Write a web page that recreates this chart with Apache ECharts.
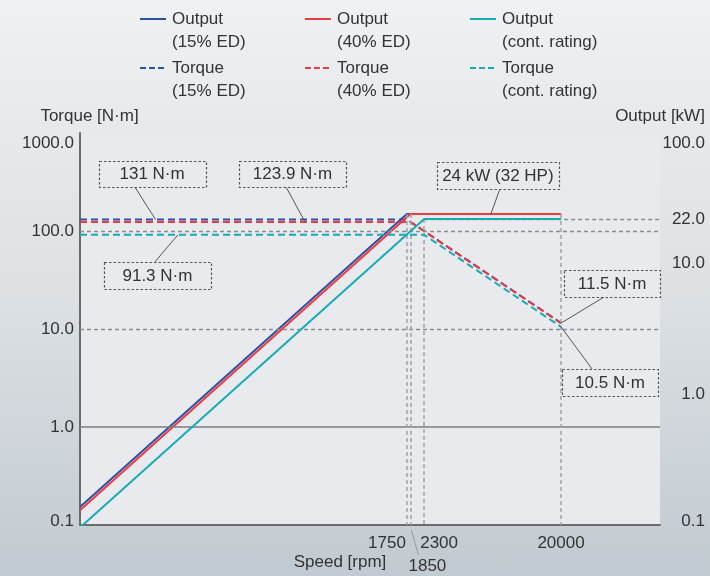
<!DOCTYPE html>
<html>
<head>
<meta charset="utf-8">
<script src="https://cdn.jsdelivr.net/npm/echarts@6/dist/echarts.min.js"></script>
<style>
  html, body { margin: 0; padding: 0; }
  #chart {
    width: 710px; height: 576px;
    background: linear-gradient(to bottom, #eff1f2 0%, #dde1e4 50%, #c2cad1 100%);
  }
</style>
</head>
<body>
<div id="chart"></div>
<script>
// Speed breakpoints [rpm]
const speeds15 = [10, 1750, 20000];
const speeds40 = [10, 1850, 20000];
const speedsCont = [10, 2300, 20000];

// Output [kW]
const output15 = [0.1372, 24, 24];
const output40 = [0.1297, 24, 24];
const outputCont = [0.0956, 22, 22];

// Torque [N·m]
const torque15 = [131, 131, 11.5];
const torque40 = [123.9, 123.9, 11.5];
const torqueCont = [91.3, 91.3, 10.5];

// Speed tick labels along the bottom
const speedTicks = [1750, 2300, 20000];
const speedTickLow = 1850;
// Extra output tick on the right
const outputMarkTick = 22;

// Legend entries
const legendNames = [
  ['Output\n(15% ED)', 'Output\n(40% ED)', 'Output\n(cont. rating)'],
  ['Torque\n(15% ED)', 'Torque\n(40% ED)', 'Torque\n(cont. rating)']
];

// Call-out texts
const noteTexts = ['131 N·m', '123.9 N·m', '24 kW (32 HP)', '91.3 N·m', '11.5 N·m', '10.5 N·m'];

const FONT = '"Liberation Sans", Arial, Helvetica, sans-serif';
const TEXT = '#333333';
const AXIS = '#6b6b6b';
const COLORS = ['#2f4ea6', '#ec3b43', '#17abb6'];
const X_MIN = 10, X_MAX = 95500;

const pairs = (xs, ys) => xs.map((x, i) => [x, ys[i]]);
const solid = c => ({ color: c, width: 2 });
const dashed = c => ({ color: c, width: 2, type: [7, 4] });

const chart = echarts.init(document.getElementById('chart'), null, { renderer: 'canvas' });

const yLabelFmt = v => {
  const s = Number(v).toFixed(1);
  if (v >= 99.9 && v > 150) return '{hi|' + s + '}';
  if (v < 0.11) return '{lo|' + s + '}';
  return s;
};
const yLabelFmtRight = v => {
  const s = Number(v).toFixed(1);
  if (v >= 99.9) return '{hi|' + s + '}';
  if (v < 0.11) return '{lo|' + s + '}';
  return s;
};
const labelRich = {
  hi: { padding: [20, 0, 0, 0], fontSize: 17, fontFamily: FONT, color: TEXT },
  lo: { padding: [0, 0, 8, 0], fontSize: 17, fontFamily: FONT, color: TEXT }
};

const refDash = { color: '#8c8c8c', width: 1.3, type: [4, 3] };
const vDash = { color: '#a3a3a3', width: 1.5, type: [4, 3] };

const option = {
  animation: false,
  textStyle: { fontFamily: FONT },
  grid: { left: 80, right: 50, top: 133, bottom: 49, show: true, backgroundColor: '#e9eaed', borderWidth: 0 },
  xAxis: {
    type: 'log', logBase: 10, min: X_MIN, max: X_MAX,
    axisLine: { show: true, lineStyle: { color: AXIS, width: 2 } },
    axisTick: { show: false },
    axisLabel: { show: false },
    splitLine: { show: false },
    name: 'Speed [rpm]', nameLocation: 'middle', nameGap: 29,
    nameTextStyle: { fontSize: 17, color: TEXT, fontFamily: FONT, padding: [0, 60, 0, 0] }
  },
  yAxis: [
    {
      type: 'log', logBase: 10, min: 0.1, max: 1000,
      axisLine: { show: true, lineStyle: { color: AXIS, width: 2 } },
      axisTick: { show: false },
      splitLine: { show: false },
      axisLabel: { fontSize: 17, color: TEXT, fontFamily: FONT, margin: 6, formatter: yLabelFmt, rich: labelRich },
      name: 'Torque [N·m]', nameLocation: 'end', nameGap: 8,
      nameTextStyle: { fontSize: 17, color: TEXT, fontFamily: FONT, align: 'center', padding: [0, 0, 0, 19] }
    },
    {
      type: 'log', logBase: 10, min: 0.1, max: 100, position: 'right',
      axisLine: { show: false },
      axisTick: { show: false },
      splitLine: { show: false },
      axisLabel: { fontSize: 17, color: TEXT, fontFamily: FONT, margin: 45, align: 'right', formatter: yLabelFmtRight, rich: labelRich },
      name: 'Output [kW]', nameLocation: 'end', nameGap: 8,
      nameTextStyle: { fontSize: 17, color: TEXT, fontFamily: FONT }
    }
  ],
  series: [
    // torque reference lines
    {
      type: 'line', data: [], z: 1, yAxisIndex: 0, silent: true,
      markLine: {
        silent: true, symbol: 'none', label: { show: false }, animation: false,
        data: [
          { yAxis: 100, lineStyle: refDash },
          { yAxis: 10, lineStyle: refDash },
          { yAxis: 1, lineStyle: { color: '#7d7d7d', width: 1.5, type: 'solid' } }
        ]
      }
    },
    // output reference lines and speed drop lines
    {
      type: 'line', data: [], z: 1, yAxisIndex: 1, silent: true,
      markLine: {
        silent: true, symbol: 'none', label: { show: false }, animation: false,
        data: [
          [{ coord: [speedsCont[1], outputMarkTick], lineStyle: refDash }, { coord: [X_MAX, outputMarkTick] }],
          [{ coord: [speeds15[1], output15[1]], lineStyle: vDash }, { coord: [speeds15[1], 0.1] }],
          [{ coord: [speeds40[1], output40[1]], lineStyle: vDash }, { coord: [speeds40[1], 0.1] }],
          [{ coord: [speedsCont[1], outputCont[1]], lineStyle: vDash }, { coord: [speedsCont[1], 0.1] }],
          [{ coord: [speeds15[2], output15[2]], lineStyle: vDash }, { coord: [speeds15[2], 0.1] }]
        ]
      }
    },
    { name: 'Output (15% ED)', type: 'line', yAxisIndex: 1, z: 3, symbol: 'none', lineStyle: solid(COLORS[0]), data: pairs(speeds15, output15) },
    { name: 'Torque (15% ED)', type: 'line', yAxisIndex: 0, z: 3, symbol: 'none', lineStyle: dashed(COLORS[0]), data: pairs(speeds15, torque15) },
    { name: 'Output (40% ED)', type: 'line', yAxisIndex: 1, z: 4, symbol: 'none', lineStyle: solid(COLORS[1]), data: pairs(speeds40, output40) },
    { name: 'Torque (40% ED)', type: 'line', yAxisIndex: 0, z: 4, symbol: 'none', lineStyle: dashed(COLORS[1]), data: pairs(speeds40, torque40) },
    { name: 'Output (cont. rating)', type: 'line', yAxisIndex: 1, z: 5, symbol: 'none', lineStyle: solid(COLORS[2]), data: pairs(speedsCont, outputCont) },
    { name: 'Torque (cont. rating)', type: 'line', yAxisIndex: 0, z: 5, symbol: 'none', lineStyle: dashed(COLORS[2]), data: pairs(speedsCont, torqueCont) }
  ]
};

chart.setOption(option);

// ---- overlay: legend, speed labels, call-outs ----
const px = (pt, yIdx) => chart.convertToPixel({ xAxisIndex: 0, yAxisIndex: yIdx }, pt);
const g = [];
const textStyle = (text, x, y, align, vAlign) => ({
  text, x, y, align: align || 'center', verticalAlign: vAlign || 'middle',
  fill: TEXT, font: '17px ' + FONT, lineHeight: 23
});

// legend
const legendColX = [140, 305, 470];
const legendRowY = [19, 68];
legendNames.forEach((row, r) => {
  row.forEach((name, c) => {
    const x = legendColX[c], y = legendRowY[r];
    g.push({
      type: 'line', silent: true,
      shape: { x1: x, y1: y, x2: x + 26, y2: y },
      style: { stroke: COLORS[c], lineWidth: 2, lineDash: r === 1 ? [6, 3] : null }
    });
    g.push({ type: 'text', silent: true, style: textStyle(name, x + 32, y - 11.5, 'left', 'top') });
  });
});

// speed tick labels
const baseY = px([speedTicks[0], 0.1], 0)[1];
const t1750 = px([speedTicks[0], 0.1], 0)[0];
const t2300 = px([speedTicks[1], 0.1], 0)[0];
const t20000 = px([speedTicks[2], 0.1], 0)[0];
const t1850 = px([speedTickLow, 0.1], 0)[0];
g.push({ type: 'text', silent: true, style: textStyle(String(speedTicks[0]), t1750 - 1, baseY + 7, 'right', 'top') });
g.push({ type: 'text', silent: true, style: textStyle(String(speedTicks[1]), t2300 - 4, baseY + 7, 'left', 'top') });
g.push({ type: 'text', silent: true, style: textStyle(String(speedTicks[2]), t20000, baseY + 7, 'center', 'top') });
g.push({ type: 'text', silent: true, style: textStyle(String(speedTickLow), t1850 + 17, baseY + 30, 'center', 'top') });
g.push({
  type: 'line', silent: true,
  shape: { x1: t1850 + 1, y1: baseY + 5, x2: t1850 + 8, y2: baseY + 30 },
  style: { stroke: '#9a9a9a', lineWidth: 1 }
});

// 22.0 output label on the right
const p22 = px([X_MAX, outputMarkTick], 1);
g.push({ type: 'text', silent: true, style: textStyle(outputMarkTick.toFixed(1), p22[0] + 45, p22[1], 'right', 'middle') });

// call-out boxes: anchor on a curve, box offset, box size, leader start offset
const notes = [
  { text: noteTexts[0], at: [33, torque15[0]], axis: 0, box: [-3.5, -46, 107, 26], lead: [-21, -33] },
  { text: noteTexts[1], at: [350, torque40[0]], axis: 0, box: [-12.5, -48, 107, 26], lead: [-19, -35] },
  { text: noteTexts[2], at: [6600, output40[1]], axis: 1, box: [7, -38.5, 122, 27], lead: [9, -25] },
  { text: noteTexts[3], at: [47, torqueCont[0]], axis: 0, box: [-20.5, 40.5, 107, 27], lead: [-23, 27] },
  { text: noteTexts[4], at: [speeds40[2], torque40[2]], axis: 0, box: [51, -39.5, 96, 27], lead: [43, -26] },
  { text: noteTexts[5], at: [speedsCont[2], torqueCont[2]], axis: 0, box: [49, 55.5, 96, 27], lead: [31, 42] }
];
notes.forEach(n => {
  const a = px(n.at, n.axis);
  const cx = a[0] + n.box[0], cy = a[1] + n.box[1], w = n.box[2], h = n.box[3];
  g.push({
    type: 'line', silent: true, z: 10,
    shape: { x1: a[0] + n.lead[0], y1: a[1] + n.lead[1], x2: a[0], y2: a[1] },
    style: { stroke: '#555555', lineWidth: 1 }
  });
  g.push({
    type: 'rect', silent: true, z: 10,
    shape: { x: Math.round(cx - w / 2) + 0.5, y: Math.round(cy - h / 2) + 0.5, width: w, height: h },
    style: { fill: '#e9eaed', stroke: '#555555', lineWidth: 1.2, lineDash: [2.5, 2] }
  });
  g.push({ type: 'text', silent: true, z: 11, style: textStyle(n.text, cx, cy + 0.5, 'center', 'middle') });
});

chart.setOption({ graphic: { elements: g } });
</script>
</body>
</html>
